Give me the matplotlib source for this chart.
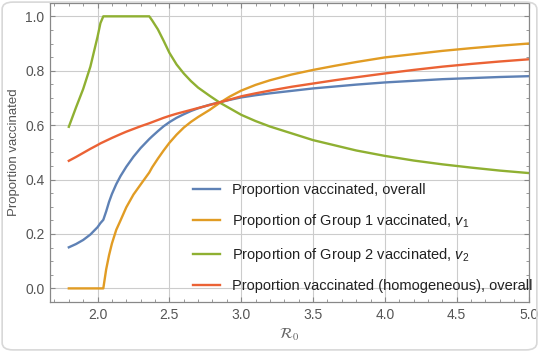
import matplotlib
matplotlib.use("Agg")
import matplotlib.pyplot as plt
from matplotlib.ticker import MultipleLocator
from matplotlib.patches import FancyBboxPatch

plt.rcParams['font.family'] = ['Liberation Sans', 'DejaVu Sans']
plt.rcParams['mathtext.fontset'] = 'custom'
plt.rcParams['mathtext.rm'] = 'Liberation Sans'
plt.rcParams['mathtext.it'] = 'Liberation Sans:italic'

# ---- data ----
r0 = [1.8, 1.85, 1.9, 1.95, 2.0, 2.02, 2.04, 2.06, 2.08, 2.1,
      2.13, 2.16, 2.2, 2.25, 2.3, 2.36, 2.38, 2.42, 2.46, 2.5,
      2.55, 2.6, 2.65, 2.7, 2.78, 2.85, 2.92, 3.0, 3.1, 3.2,
      3.35, 3.5, 3.65, 3.8, 4.0, 4.2, 4.4, 4.6, 4.8, 5.0]
overall = [0.151, 0.163, 0.178, 0.198, 0.225, 0.240, 0.252, 0.283, 0.318, 0.347,
           0.383, 0.413, 0.447, 0.484, 0.516, 0.549, 0.559, 0.578, 0.596, 0.611,
           0.627, 0.640, 0.652, 0.662, 0.675, 0.684, 0.693, 0.702, 0.710, 0.717,
           0.726, 0.735, 0.742, 0.749, 0.757, 0.763, 0.769, 0.773, 0.777, 0.780]
group1 = [0.0, 0.0, 0.0, 0.0, 0.0, 0.0, 0.0, 0.070, 0.122, 0.165,
          0.215, 0.250, 0.298, 0.345, 0.382, 0.426, 0.445, 0.477, 0.507, 0.535,
          0.565, 0.591, 0.612, 0.630, 0.656, 0.682, 0.705, 0.727, 0.748, 0.765,
          0.786, 0.803, 0.818, 0.832, 0.849, 0.861, 0.873, 0.883, 0.892, 0.900]
group2 = [0.594, 0.665, 0.733, 0.815, 0.925, 0.975, 1.0, 1.0, 1.0, 1.0,
          1.0, 1.0, 1.0, 1.0, 1.0, 1.0, 0.985, 0.952, 0.910, 0.866,
          0.823, 0.790, 0.762, 0.738, 0.708, 0.683, 0.662, 0.638, 0.615, 0.595,
          0.570, 0.545, 0.526, 0.507, 0.487, 0.470, 0.456, 0.444, 0.433, 0.424]
homog = [0.469, 0.483, 0.498, 0.513, 0.527, 0.533, 0.538, 0.543, 0.548, 0.553,
         0.560, 0.567, 0.576, 0.586, 0.596, 0.607, 0.611, 0.619, 0.627, 0.634,
         0.642, 0.649, 0.656, 0.663, 0.674, 0.684, 0.694, 0.706, 0.717, 0.727,
         0.741, 0.753, 0.765, 0.776, 0.790, 0.803, 0.815, 0.825, 0.834, 0.842]

labels = ["Proportion vaccinated, overall",
          "Proportion of Group 1 vaccinated, $v_1$",
          "Proportion of Group 2 vaccinated, $v_2$",
          "Proportion vaccinated (homogeneous), overall"]
colors = ["#5E81B5", "#E19C24", "#8FB032", "#EB6235"]

fig = plt.figure(figsize=(5.39, 3.52), dpi=100)
ax = fig.add_axes([50/539, 50/352, 479/539, 299/352])

for ys, lab, c in zip([overall, group1, group2, homog], labels, colors):
    ax.plot(r0, ys, color=c, lw=1.7, label=lab, solid_joinstyle='round')

ax.set_xlim(1.669, 5.003)
ax.set_ylim(-0.05, 1.049)
ax.xaxis.set_major_locator(MultipleLocator(0.5))
ax.xaxis.set_minor_locator(MultipleLocator(0.1))
ax.yaxis.set_major_locator(MultipleLocator(0.2))
ax.yaxis.set_minor_locator(MultipleLocator(0.05))
ax.set_xticks([2.0, 2.5, 3.0, 3.5, 4.0, 4.5, 5.0])
ax.set_xticklabels(["2.0", "2.5", "3.0", "3.5", "4.0", "4.5", "5.0"])
ax.set_yticks([0.0, 0.2, 0.4, 0.6, 0.8, 1.0])
ax.set_yticklabels(["0.0", "0.2", "0.4", "0.6", "0.8", "1.0"])
ax.grid(True, which='major', color='#cccccc', lw=0.8)
ax.set_axisbelow(True)

for s in ax.spines.values():
    s.set_color('#888888')
    s.set_linewidth(0.9)
ax.tick_params(which='both', direction='in', top=True, right=True,
               color='#888888', labelcolor='#555555', labelsize=10)
ax.tick_params(which='major', length=3.5, pad=4)
ax.tick_params(which='minor', length=2)

ax.set_ylabel("Proportion vaccinated", color='#555555', fontsize=9.5, labelpad=4)
ax.set_xlabel(r"$\mathcal{R}_0$", color='#666666', fontsize=11,
              math_fontfamily='stix', labelpad=4)

leg = ax.legend(loc='lower left', bbox_to_anchor=(0.298, 0.03), frameon=False,
                fontsize=10.5, handlelength=1.9, handletextpad=0.8,
                labelspacing=1.05, borderpad=0, borderaxespad=0)
for t in leg.get_texts():
    t.set_color('#222222')

fig.patches.append(FancyBboxPatch((0.004, 0.006), 0.992, 0.988,
                                  boxstyle="round,pad=0,rounding_size=0.02",
                                  transform=fig.transFigure, fill=False,
                                  edgecolor='#d8d8d8', lw=1.2))

fig.savefig("out.png", dpi=100)
